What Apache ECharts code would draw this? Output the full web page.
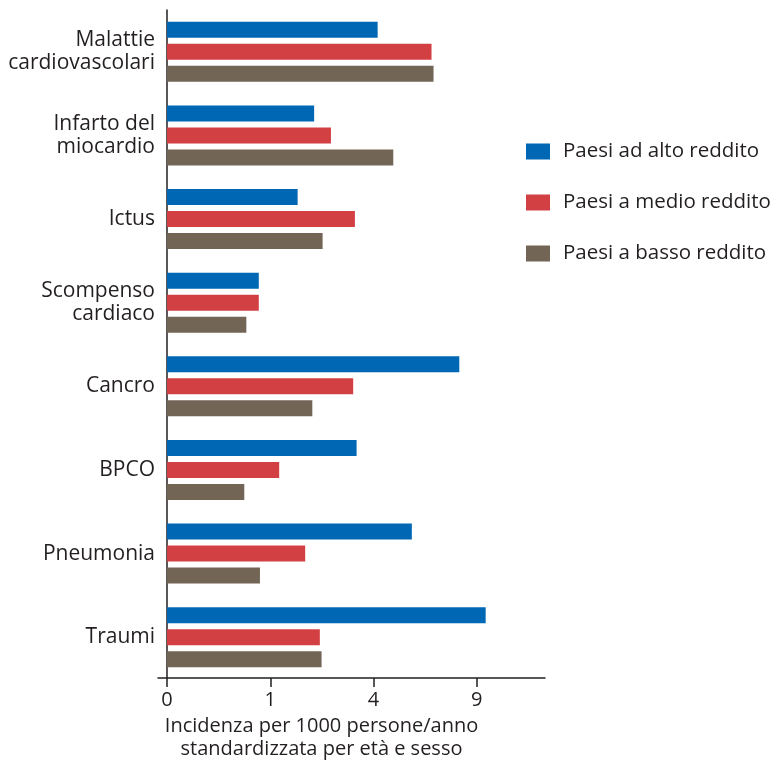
<!DOCTYPE html>
<html>
<head>
<meta charset="utf-8">
<script src="https://cdn.jsdelivr.net/npm/echarts@6/dist/echarts.min.js"></script>
<style>
html,body{margin:0;padding:0;background:#fff;}
#chart{width:773px;height:766px;}
</style>
</head>
<body>
<div id="chart"></div>
<script>
// Categories (top to bottom)
const categories = [
  'Malattie\ncardiovascolari',
  'Infarto del\nmiocardio',
  'Ictus',
  'Scompenso\ncardiaco',
  'Cancro',
  'BPCO',
  'Pneumonia',
  'Traumi'
];
// Incidence per 1000 person-years
const highIncome   = [4.16, 2.03, 1.60, 0.79, 8.01, 3.37, 5.62, 9.52];
const middleIncome = [6.56, 2.52, 3.31, 0.79, 3.25, 1.18, 1.79, 2.19];
const lowIncome    = [6.66, 4.80, 2.27, 0.59, 1.98, 0.56, 0.81, 2.24];
const seriesNames = ['Paesi ad alto reddito', 'Paesi a medio reddito', 'Paesi a basso reddito'];
const tickLabels = [0, 1, 4, 9];
const axisName = 'Incidenza per 1000 persone/anno\nstandardizzata per età e sesso';

const colors = ['#0067b4', '#d34044', '#726556'];
const FONT = '"Open Sans", "Noto Sans", sans-serif';
const TXT = '#231f20';
const sqrtMax = 3.66;          // right end of the axis in sqrt units
const sqrtMin = -0.087;        // axis line extends a bit left of zero

const chart = echarts.init(document.getElementById('chart'));
const toSqrt = arr => arr.map(v => Math.sqrt(v));

chart.setOption({
  animation: false,
  textStyle: { fontFamily: FONT },
  color: colors,
  legend: {
    orient: 'vertical',
    left: 526,
    top: 141,
    padding: 0,
    itemWidth: 24,
    itemHeight: 16,
    itemGap: 30,
    icon: 'rect',
    selectedMode: false,
    textStyle: { fontFamily: FONT, fontSize: 20.5, color: TXT, lineHeight: 20, padding: [0, 0, 0, 8] },
    data: seriesNames
  },
  grid: [
    { left: 167, right: 228, top: 10, height: 669 },
    { left: 158, right: 228, top: 10, bottom: 80 }
  ],
  xAxis: [
    {
      gridIndex: 0, type: 'value', min: 0, max: sqrtMax,
      show: false
    },
    {
      gridIndex: 1, type: 'value', min: sqrtMin, max: sqrtMax,
      axisLine: { show: true, onZero: false, lineStyle: { color: TXT, width: 1.5 } },
      axisTick: { show: true, length: 9, customValues: tickLabels.map(Math.sqrt), lineStyle: { color: TXT, width: 1.5 } },
      axisLabel: {
        show: true, margin: 12, customValues: tickLabels.map(Math.sqrt),
        fontFamily: FONT, fontSize: 20, color: TXT,
        formatter: v => String(Math.round(v * v))
      },
      splitLine: { show: false },
      name: axisName,
      nameLocation: 'middle',
      nameGap: 29,
      nameTextStyle: { fontFamily: FONT, fontSize: 20, color: TXT, lineHeight: 23, padding: [0, 60, 0, 0] }
    }
  ],
  yAxis: [
    {
      gridIndex: 0, type: 'category', data: categories, inverse: true,
      axisLine: { show: false },
      axisTick: { show: false },
      axisLabel: { margin: 12, fontFamily: FONT, fontSize: 21, color: TXT, lineHeight: 23, align: 'right', padding: [6, 0, 0, 0] }
    },
    {
      gridIndex: 1, type: 'value', min: 0, max: 1,
      axisLine: { show: true, onZero: true, lineStyle: { color: TXT, width: 1.5 } },
      axisTick: { show: false },
      axisLabel: { show: false },
      splitLine: { show: false }
    }
  ],
  series: [highIncome, middleIncome, lowIncome].map((vals, i) => ({
    type: 'bar',
    name: seriesNames[i],
    xAxisIndex: 0,
    yAxisIndex: 0,
    data: toSqrt(vals),
    barWidth: 16,
    barGap: '37.5%',
    itemStyle: { color: colors[i] }
  }))
});
</script>
</body>
</html>
